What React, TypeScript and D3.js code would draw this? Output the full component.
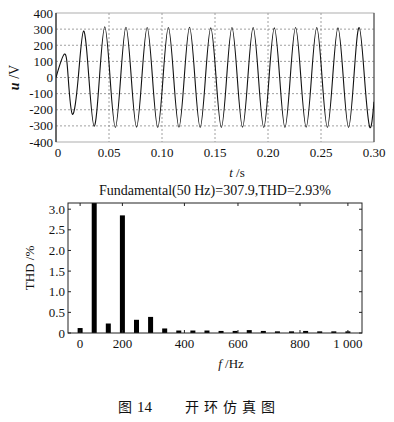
import React from "react";
import * as d3 from "d3";

// top plot: output voltage, read at zero crossings and peaks
const timeS = [
  0, 0.008, 0.0115, 0.0155, 0.021, 0.026, 0.031, 0.036, 0.041, 0.046,
  0.051, 0.056, 0.061, 0.066, 0.071, 0.076, 0.081, 0.086, 0.091, 0.096,
  0.101, 0.106, 0.111, 0.116, 0.121, 0.126, 0.131, 0.136, 0.141, 0.146,
  0.151, 0.156, 0.161, 0.166, 0.171, 0.176, 0.181, 0.186, 0.191, 0.196,
  0.201, 0.206, 0.211, 0.216, 0.221, 0.226, 0.231, 0.236, 0.241, 0.246,
  0.251, 0.256, 0.261, 0.266, 0.271, 0.276, 0.281, 0.286, 0.291, 0.296,
  0.3,
];
const voltageV = [
  0, 145, 0, -228, 0, 288, 0, -302, 0, 315,
  0, -310, 0, 312, 0, -308, 0, 310, 0, -310,
  0, 310, 0, -308, 0, 312, 0, -310, 0, 308,
  0, -310, 0, 310, 0, -308, 0, 310, 0, -310,
  0, 308, 0, -310, 0, 310, 0, -308, 0, 310,
  0, -310, 0, 308, 0, -310, 0, 310, 0, -308,
  -150,
];
const uTicks = [-400, -300, -200, -100, 0, 100, 200, 300, 400];
const tTicks = [0, 0.05, 0.1, 0.15, 0.2, 0.25, 0.3];
const tTickLabels = ["0", "0.05", "0.10", "0.15", "0.20", "0.25", "0.30"];

// bottom plot: harmonic spectrum
const freqHz = [
  0, 50, 100, 150, 200, 250, 300, 350, 400, 450,
  500, 550, 600, 650, 700, 750, 800, 850, 900, 950,
];
const thdPct = [
  0.12, 100, 0.23, 2.85, 0.32, 0.39, 0.11, 0.06, 0.06, 0.06,
  0.05, 0.05, 0.07, 0.05, 0.04, 0.04, 0.05, 0.04, 0.04, 0.04,
];
const thdTicks = [0, 0.5, 1, 1.5, 2, 2.5, 3];
const thdTickLabels = ["0", "0.5", "1.0", "1.5", "2.0", "2.5", "3.0"];
const fTickPos = [0, 150, 370, 560, 780, 950];
const fTickLabels = ["0", "200", "400", "600", "800", "1 000"];

const title = "Fundamental(50 Hz)=307.9,THD=2.93%";

const serif = "'Liberation Serif', 'Times New Roman', serif";

export default function App() {
  const W = 394;
  const H = 422;

  // top
  const x1 = d3.scaleLinear().domain([0, 0.3]).range([56, 374]);
  const y1 = d3.scaleLinear().domain([-400, 400]).range([142, 13]);
  const line = d3
    .line<number>()
    .x((_, i) => x1(timeS[i]))
    .y((d) => y1(d))
    .curve(d3.curveNatural);

  // bottom
  const x2 = d3.scaleLinear().domain([-43, 1000]).range([68, 362]);
  const y2 = d3.scaleLinear().domain([0, 3.15]).range([333, 203]);
  const barW = 5;

  const [tx0, tx1] = x1.range();
  const [ty0, ty1] = y1.range();
  const [bx0, bx1] = x2.range();
  const [by0, by1] = y2.range();

  return (
    <svg
      width={W}
      height={H}
      style={{ position: "absolute", left: 0, top: 0, background: "#fff" }}
      fontFamily={serif}
    >
      <defs>
        <clipPath id="clipTop">
          <rect x={tx0} y={ty1} width={tx1 - tx0} height={ty0 - ty1} />
        </clipPath>
        <clipPath id="clipBot">
          <rect x={bx0} y={by1} width={bx1 - bx0} height={by0 - by1} />
        </clipPath>
      </defs>

      {/* top plot grid */}
      <g stroke="#888" strokeWidth={0.8} strokeDasharray="2,2">
        {uTicks.slice(1, -1).map((v) => (
          <line key={"h" + v} x1={tx0} x2={tx1} y1={y1(v)} y2={y1(v)} />
        ))}
        {tTicks.slice(1, -1).map((v) => (
          <line key={"v" + v} x1={x1(v)} x2={x1(v)} y1={ty1} y2={ty0} />
        ))}
      </g>
      <rect
        x={tx0}
        y={ty1}
        width={tx1 - tx0}
        height={ty0 - ty1}
        fill="none"
        stroke="#999"
        strokeWidth={0.8}
      />
      <line x1={tx0} x2={tx0} y1={ty1} y2={ty0} stroke="#222" strokeWidth={1.2} />
      <line x1={tx1} x2={tx1} y1={ty1} y2={ty0} stroke="#444" strokeWidth={1} />
      <path
        d={line(voltageV) || ""}
        fill="none"
        stroke="#111"
        strokeWidth={1.1}
        clipPath="url(#clipTop)"
      />
      <g fontSize={13} fill="#111" textAnchor="end">
        {uTicks.map((v) => (
          <text key={v} x={tx0 - 3} y={y1(v) + 4.5}>
            {v}
          </text>
        ))}
      </g>
      <g fontSize={13} fill="#111" textAnchor="middle">
        {tTicks.map((v, i) => (
          <text key={v} x={x1(v) + (i === 0 ? 2 : 0)} y={157}>
            {tTickLabels[i]}
          </text>
        ))}
      </g>
      <text x={237} y={177} fontSize={13} textAnchor="middle" fill="#111">
        <tspan fontStyle="italic">t</tspan> /s
      </text>
      <text
        transform={`translate(19,${(ty0 + ty1) / 2}) rotate(-90)`}
        fontSize={14}
        textAnchor="middle"
        fill="#111"
      >
        <tspan fontStyle="italic" fontWeight="bold">u</tspan> /V
      </text>

      {/* bottom plot */}
      <text x={215} y={195} fontSize={14} textAnchor="middle" fill="#111">
        {title}
      </text>
      <g clipPath="url(#clipBot)">
        {freqHz.map((f, i) => (
          <rect
            key={f}
            x={x2(f) - barW / 2}
            y={y2(Math.min(thdPct[i], 10))}
            width={barW}
            height={y2(0) - y2(Math.min(thdPct[i], 10))}
            fill="#000"
          />
        ))}
      </g>
      <rect
        x={bx0}
        y={by1}
        width={bx1 - bx0}
        height={by0 - by1}
        fill="none"
        stroke="#222"
        strokeWidth={1}
      />
      <g stroke="#222" strokeWidth={1}>
        {thdTicks.map((v) => (
          <g key={v}>
            <line x1={bx0} x2={bx0 + 3} y1={y2(v)} y2={y2(v)} />
            <line x1={bx1} x2={bx1 - 3} y1={y2(v)} y2={y2(v)} />
          </g>
        ))}
        {fTickPos.map((v) => (
          <g key={v}>
            <line x1={x2(v)} x2={x2(v)} y1={by0} y2={by0 - 3} />
            <line x1={x2(v)} x2={x2(v)} y1={by1} y2={by1 + 3} />
          </g>
        ))}
      </g>
      <g fontSize={13} fill="#111" textAnchor="end">
        {thdTicks.map((v, i) => (
          <text key={v} x={bx0 - 3} y={y2(v) + 4.5}>
            {thdTickLabels[i]}
          </text>
        ))}
      </g>
      <g fontSize={13} fill="#111" textAnchor="middle">
        {fTickPos.map((v, i) => (
          <text key={v} x={x2(v)} y={348}>
            {fTickLabels[i]}
          </text>
        ))}
      </g>
      <text x={231} y={368} fontSize={13} textAnchor="middle" fill="#111">
        <tspan fontStyle="italic">f</tspan> /Hz
      </text>
      <text
        transform={`translate(34,${(by0 + by1) / 2}) rotate(-90)`}
        fontSize={13}
        textAnchor="middle"
        fill="#111"
      >
        THD /%
      </text>

      {/* caption */}
      <g fontSize={14} fill="#111" fontFamily="'Noto Sans CJK SC', sans-serif">
        <text x={118} y={412}>图</text>
        <text x={137} y={412} fontFamily={serif} fontSize={15}>14</text>
        <text x={185} y={412} letterSpacing={5}>开环仿真图</text>
      </g>
    </svg>
  );
}
